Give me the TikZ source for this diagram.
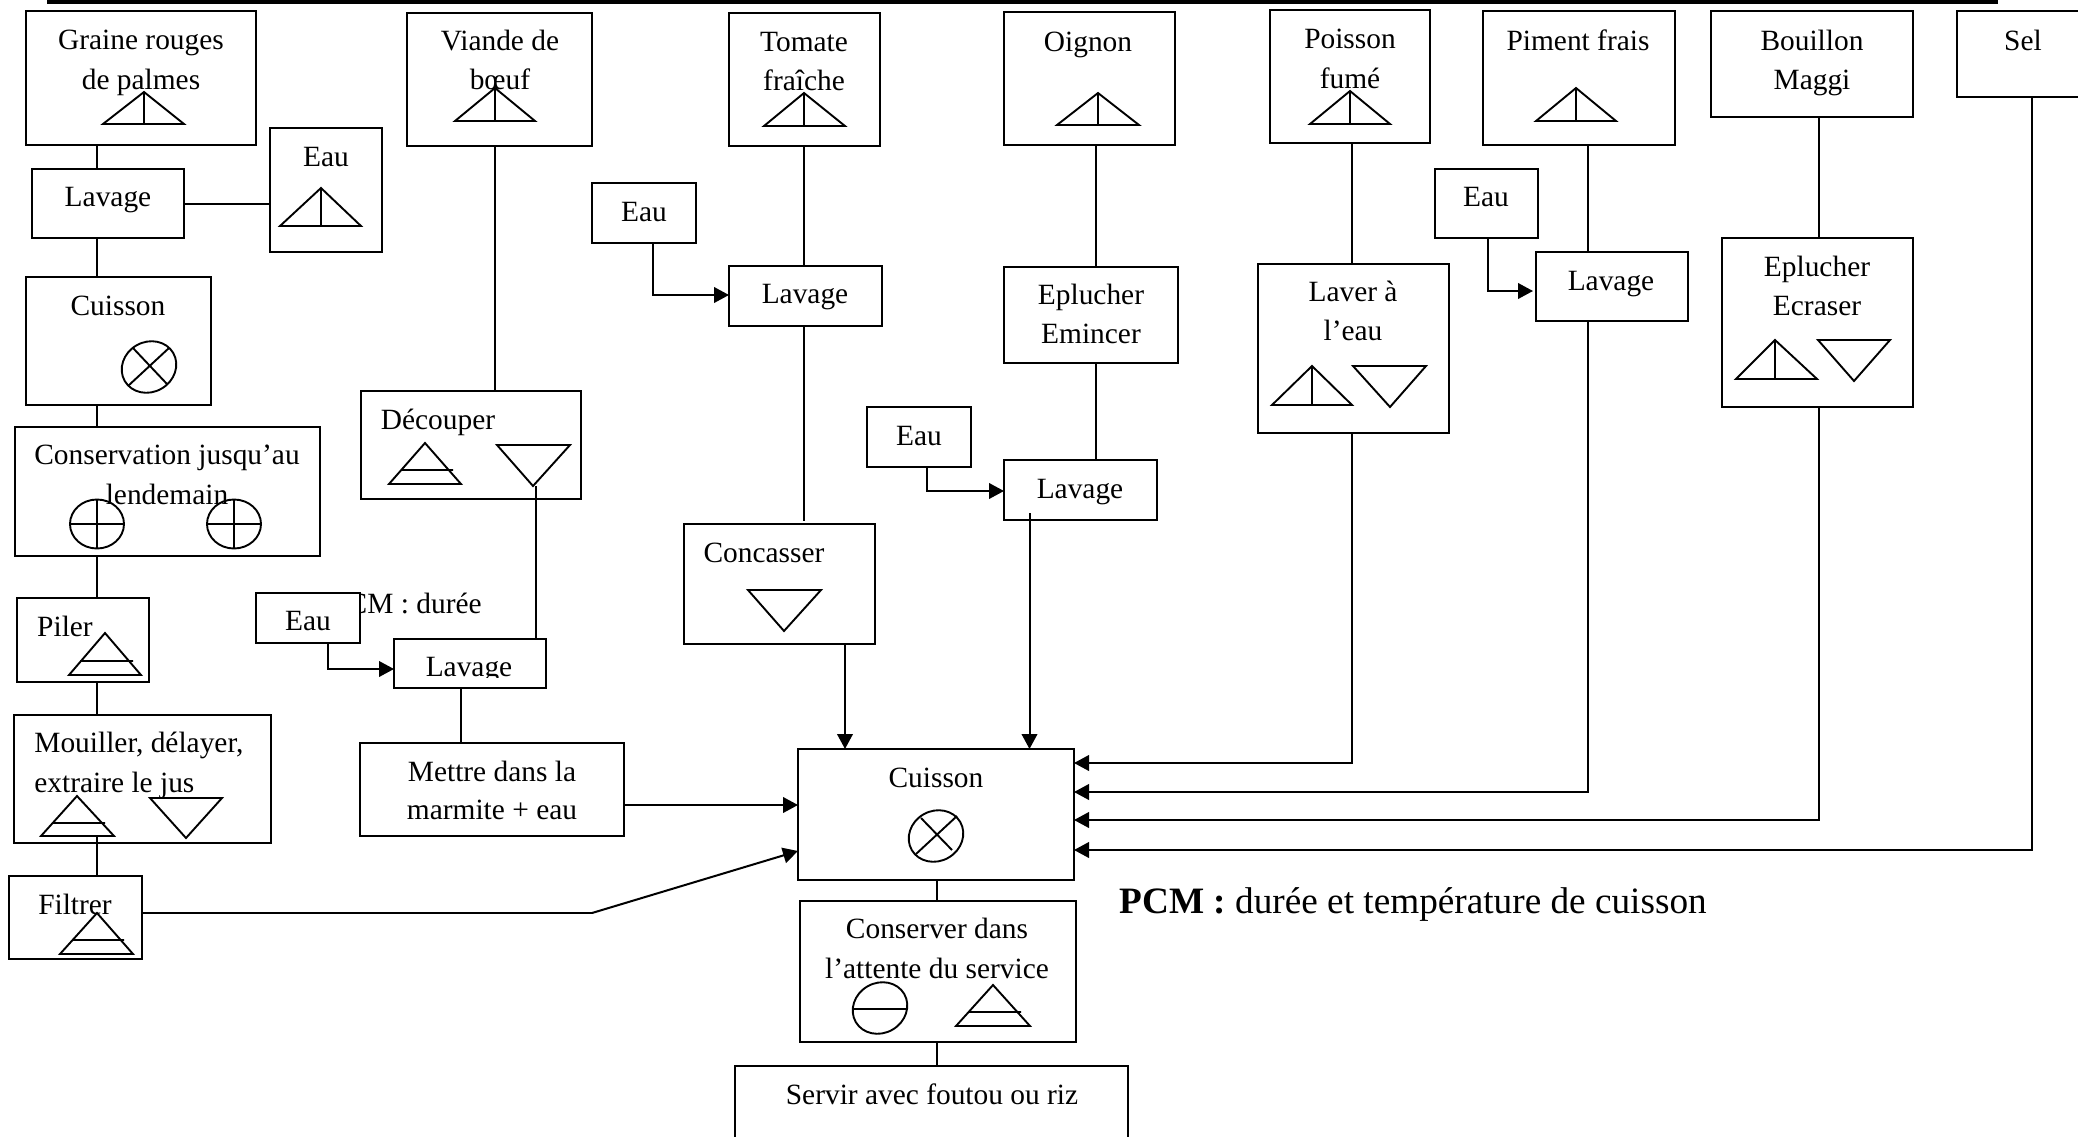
\documentclass[tikz,border=0pt]{standalone}
\usepackage{fontspec}
\setmainfont{Liberation Serif}
\usetikzlibrary{arrows.meta,fit}
\tikzset{
  x=0.5pt,y=-0.5pt,
  boxst/.style={draw=black,fill=white,line width=1.05pt,inner sep=0pt,outer sep=0pt,rectangle},
  lab/.style={anchor=base,inner sep=0pt,yshift=-0.5pt,font=\fontsize{14.7pt}{16pt}\selectfont,text=black},
  conn/.style={draw=black,line width=1pt},
  arr/.style={conn,-{Triangle[length=7.5pt,width=7.8pt]}},
  sym/.style={draw=black,line width=0.95pt,line join=miter},
}
\newcommand\bx[5]{\node[boxst,fit={(#2,#3)(#4,#5)}] (#1) {};}
\newcommand\lb[4]{\node[lab] (#1) at (#2,#3) {#4};}
\newcommand\vc[3]{\draw[conn] (#1 -| #3,0) -- (#2 -| #3,0);}
\newcommand\hc[3]{\draw[conn] (#1 |- 0,#3) -- (#2 |- 0,#3);}
\newcommand\symV[5]{\draw[sym] (#4,#3) -- (#5,#3) -- (#1,#2) -- cycle (#1,#2) -- (#1,#3);}
\newcommand\symH[8]{\draw[sym] (#4,#3) -- (#5,#3) -- (#1,#2) -- cycle (#7,#6) -- (#8,#6);}
\newcommand\symD[5]{\draw[sym] (#1,#3) -- (#2,#3) -- (#4,#5) -- cycle;}
\begin{document}
\begin{tikzpicture}
\useasboundingbox (0,0) rectangle (2078,1136);
\fill[black] (47,0) rectangle (1998,3.6);
\node[lab,anchor=base west] (pcmhidden) at (331,612) {PCM : durée};
% boxes
\bx{gr}{26}{11}{256}{145}
\bx{vi}{407}{13}{592}{146}
\bx{to}{729}{13}{880}{146}
\bx{oi}{1004}{12}{1175}{145}
\bx{po}{1270}{10}{1430}{143}
\bx{pi}{1483}{11}{1675}{145}
\bx{bo}{1711}{11}{1913}{117}
\bx{se}{1957}{11}{2090}{97}
\bx{eauA}{270}{128}{382}{252}
\bx{lavA}{32}{169}{184}{238}
\bx{cuiA}{26}{277}{211}{405}
\bx{cons}{15}{427}{320}{556}
\bx{pil}{17}{598}{149}{682}
\bx{mou}{14}{715}{271}{843}
\bx{fil}{9}{876}{142}{959}
\bx{dec}{361}{391}{581}{499}
\bx{eauB}{256}{593}{360}{643}
\bx{lavB}{394}{639}{546}{688}
\bx{met}{360}{743}{624}{836}
\bx{eauC}{592}{183}{696}{243}
\bx{lavC}{729}{266}{882}{326}
\bx{con}{684}{524}{875}{644}
\bx{epA}{1004}{267}{1178}{363}
\bx{eauD}{867}{407}{971}{467}
\bx{lavD}{1004}{460}{1157}{520}
\bx{lvr}{1258}{264}{1449}{433}
\bx{eauE}{1435}{169}{1538}{238}
\bx{lavE}{1536}{252}{1688}{321}
\bx{epB}{1722}{238}{1913}{407}
\bx{cui}{798}{749}{1074}{880}
\bx{att}{800}{901}{1076}{1042}
\bx{ser}{735}{1066}{1128}{1142}
% labels
\lb{t1}{141}{48}{Graine rouges}
\lb{t2}{141}{88}{de palmes}
\lb{t3}{500}{49}{Viande de}
\lb{t4}{500}{88}{bœuf}
\lb{t5}{804}{50.5}{Tomate}
\lb{t6}{804}{89}{fraîche}
\lb{t7}{1088}{50.5}{Oignon}
\lb{t8}{1350}{47}{Poisson}
\lb{t9}{1350}{87}{fumé}
\lb{t10}{1578}{49}{Piment frais}
\lb{t11}{1812}{49}{Bouillon}
\lb{t12}{1812}{88}{Maggi}
\lb{t13}{2023}{49}{Sel}
\lb{t14}{326}{165}{Eau}
\lb{t15}{108}{205}{Lavage}
\lb{t16}{118}{314}{Cuisson}
\lb{t17}{167}{463}{Conservation jusqu’au}
\lb{t18}{167}{503}{lendemain}
\lb{t19}{65}{635}{Piler}
\node[lab,anchor=base west] (t20) at (34,751) {Mouiller, délayer,};
\node[lab,anchor=base west] (t21) at (34,791) {extraire le jus};
\lb{t22}{75}{913}{Filtrer}
\lb{t23}{438}{428}{Découper}
\lb{t24}{308}{629}{Eau}
\lb{t25}{469}{675}{Lavage}
\fill[white] (440,678) rectangle (510,686);
\lb{t26}{492}{780}{Mettre dans la}
\lb{t27}{492}{818}{marmite + eau}
\lb{t28}{644}{220}{Eau}
\lb{t29}{805}{302}{Lavage}
\lb{t30}{764}{561}{Concasser}
\lb{t31}{1091}{303}{Eplucher}
\lb{t32}{1091}{342}{Emincer}
\lb{t33}{919}{444}{Eau}
\lb{t34}{1080}{497}{Lavage}
\lb{t35}{1353}{300}{Laver à}
\lb{t36}{1353}{339}{l’eau}
\lb{t37}{1486}{205}{Eau}
\lb{t38}{1611}{289}{Lavage}
\lb{t39}{1817}{275}{Eplucher}
\lb{t40}{1817}{314}{Ecraser}
\lb{t41}{936}{786}{Cuisson}
\lb{t42}{937}{937}{Conserver dans}
\lb{t43}{937}{977}{l’attente du service}
\lb{t44}{932}{1103}{Servir avec foutou ou riz}
\node[lab,anchor=base west,yshift=0.5pt,font=\fontsize{18.62pt}{20pt}\selectfont] (pcm) at (1119,913) {\textbf{PCM :} durée et température de cuisson};
% symbols
\symV{144}{92}{124}{103}{184}
\symV{495}{88}{121}{455}{535}
\symV{804}{93}{126}{764}{845}
\symV{1098}{93}{125}{1057}{1139}
\symV{1350}{91}{124}{1310}{1390}
\symV{1576}{88}{121}{1536}{1616}
\symV{321}{188}{226}{280}{361}
\symV{1312}{366}{405}{1272}{1352}
\symD{1353}{1426}{366}{1390}{407}
\symV{1775}{340}{379}{1736}{1817}
\symD{1818}{1890}{340}{1854}{381}
\symD{748}{821}{590}{784}{631}
\symH{425}{443}{484}{389}{461}{470}{401}{453}
\symD{497}{570}{445}{533}{486}
\symH{105}{633}{675}{69}{141}{661}{80}{133}
\symH{77}{796}{836}{41}{114}{823}{53}{105}
\symD{150}{222}{798}{186}{838}
\symH{97}{913}{954}{60}{133}{940}{73}{124}
\symH{993}{985}{1026}{956}{1030}{1012}{969}{1021}
% cooking and storage circles
\draw[sym] (149,367) ellipse [x radius=28,y radius=25,rotate=30];
\draw[sym] (133,348) -- (167,384) (169,348) -- (128,386);
\draw[sym] (936,836) ellipse [x radius=28,y radius=25,rotate=30];
\draw[sym] (921,818) -- (952,850) (957,816) -- (916,854);
\draw[sym] (97,524) ellipse [x radius=27,y radius=24.5];
\draw[sym] (70,524) -- (124,524) (97,499) -- (97,549);
\draw[sym] (234,524) ellipse [x radius=27,y radius=24.5];
\draw[sym] (207,524) -- (261,524) (234,499) -- (234,549);
\draw[sym] (880,1008) ellipse [x radius=28,y radius=25,rotate=30];
\draw[sym] (852,1009) -- (908,1009);
% connectors
\vc{gr.south}{lavA.north}{97}
\hc{lavA.east}{eauA.west}{204}
\vc{lavA.south}{cuiA.north}{97}
\vc{cuiA.south}{cons.north}{97}
\vc{cons.south}{pil.north}{97}
\vc{pil.south}{mou.north}{97}
\draw[conn] (97,836) -- (fil.north -| 97,0);
\vc{vi.south}{dec.north}{495}
\draw[conn] (535.5,486) -- (lavB.north -| 535.5,0);
\vc{lavB.south}{met.north}{461}
\draw[arr] (eauB.south -| 328,0) |- (lavB.west |- 0,669);
\draw[arr] (met.east |- 0,805) -- (cui.west |- 0,805);
\draw[conn] (fil.east |- 0,913) -- (592,913) coordinate (bend);
\draw[arr] (bend) -- (cui.west |- 0,851);
\vc{to.south}{lavC.north}{804}
\draw[conn] (lavC.south -| 804,0) -- (804,521);
\draw[arr] (eauC.south -| 653,0) |- (lavC.west |- 0,295);
\draw[arr] (con.south -| 845,0) -- (cui.north -| 845,0);
\vc{oi.south}{epA.north}{1096}
\vc{epA.south}{lavD.north}{1096}
\draw[arr] (eauD.south -| 927,0) |- (lavD.west |- 0,491);
\draw[arr] (1029.5,513) -- (cui.north -| 1029.5,0);
\vc{po.south}{lvr.north}{1352}
\draw[arr] (lvr.south -| 1352,0) |- (cui.east |- 0,763);
\vc{pi.south}{lavE.north}{1588}
\draw[arr,shorten >=1.5pt] (eauE.south -| 1488,0) |- (lavE.west |- 0,291);
\draw[arr] (lavE.south -| 1588,0) |- (cui.east |- 0,792);
\vc{bo.south}{epB.north}{1819}
\draw[arr] (epB.south -| 1819,0) |- (cui.east |- 0,820);
\draw[arr] (se.south -| 2032,0) |- (cui.east |- 0,850);
\vc{cui.south}{att.north}{937}
\vc{att.south}{ser.north}{937}
\end{tikzpicture}
\end{document}
